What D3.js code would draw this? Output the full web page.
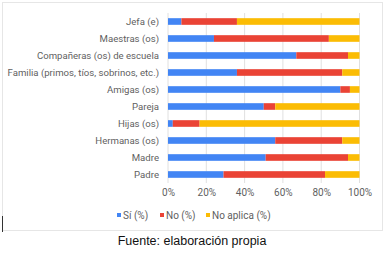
<!DOCTYPE html>
<html><head><meta charset="utf-8">
<script src="https://cdn.jsdelivr.net/npm/d3@7"></script>
<style>body{margin:0;background:#fff;}svg{display:block;}</style>
</head><body>
<script>
const categories = ["Jefa (e)","Maestras (os)","Compañeras (os) de escuela","Familia (primos, tíos, sobrinos, etc.)","Amigas (os)","Pareja","Hijas (os)","Hermanas (os)","Madre","Padre"];
const si = [7, 24, 67, 36, 90, 50, 2.5, 56, 51, 29];
const no = [29, 60, 27, 55, 5, 6, 14, 35, 43, 53];
const noAplica = [64, 16, 6, 9, 5, 44, 83.5, 9, 6, 18];
const seriesNames = ["Sí (%)", "No (%)", "No aplica (%)"];
const colors = ["#4285F4", "#EA4335", "#FBBC04"];
const tickValues = [0, 0.2, 0.4, 0.6, 0.8, 1];

const W = 389, H = 267;
const svg = d3.select("body").append("svg").attr("width", W).attr("height", H);
svg.append("rect").attr("x", 2.5).attr("y", 2.5).attr("width", 380).attr("height", 228)
  .attr("fill", "#fff").attr("stroke", "#e6e6e6");
svg.append("line").attr("x1", 2.5).attr("x2", 2.5).attr("y1", 216).attr("y2", 232).attr("stroke", "#333");

const rows = categories.map((c, i) => ({cat: c, vals: [si[i], no[i], noAplica[i]]}));
const x = d3.scaleLinear().domain([0, 1]).range([168, 359.5]);
const y = d3.scaleBand().domain(categories).range([13, 183]).paddingInner(0.61).paddingOuter(0.305);

const g = svg.append("g");
g.selectAll("line.grid").data(tickValues).join("line").attr("class", "grid")
  .attr("x1", d => x(d)).attr("x2", d => x(d)).attr("y1", 13).attr("y2", 183)
  .attr("stroke", "#e0e0e0");

rows.forEach(r => {
  const tot = d3.sum(r.vals);
  let acc = 0;
  r.vals.forEach((v, k) => {
    const s = acc / tot; acc += v; const e = acc / tot;
    g.append("rect").attr("x", x(s)).attr("width", x(e) - x(s))
      .attr("y", y(r.cat)).attr("height", y.bandwidth()).attr("fill", colors[k]);
  });
});

const yAxis = d3.axisLeft(y).tickSize(0).tickPadding(8);
const ya = svg.append("g").attr("transform", "translate(167,0)").call(yAxis);
ya.select(".domain").remove();
ya.selectAll("text").attr("font-family", "Roboto, Arial, sans-serif").attr("font-size", 9.6).attr("fill", "#5f5f5f");

const xAxis = d3.axisBottom(x).tickValues(tickValues).tickFormat(d3.format(".0%")).tickSize(0).tickPadding(0);
const xa = svg.append("g").attr("transform", "translate(0,189)").call(xAxis);
xa.select(".domain").remove();
xa.selectAll("text").attr("font-family", "Roboto, Arial, sans-serif").attr("font-size", 10).attr("fill", "#5f5f5f").attr("dy", "0.71em");

const legX = [117, 160, 206];
const leg = svg.append("g");
seriesNames.forEach((n, k) => {
  leg.append("rect").attr("x", legX[k]).attr("y", 213).attr("width", 4).attr("height", 4).attr("fill", colors[k]);
  leg.append("text").attr("x", legX[k] + 6).attr("y", 215).attr("dy", "0.35em")
    .attr("font-family", "Roboto, Arial, sans-serif").attr("font-size", 10).attr("fill", "#5f5f5f").text(n);
});

svg.append("text").attr("x", 192).attr("y", 241).attr("dy", "0.35em").attr("text-anchor", "middle")
  .attr("font-family", "Liberation Sans, Arial, sans-serif").attr("font-size", 12.5).attr("fill", "#111")
  .text("Fuente: elaboración propia");
</script>
</body></html>
